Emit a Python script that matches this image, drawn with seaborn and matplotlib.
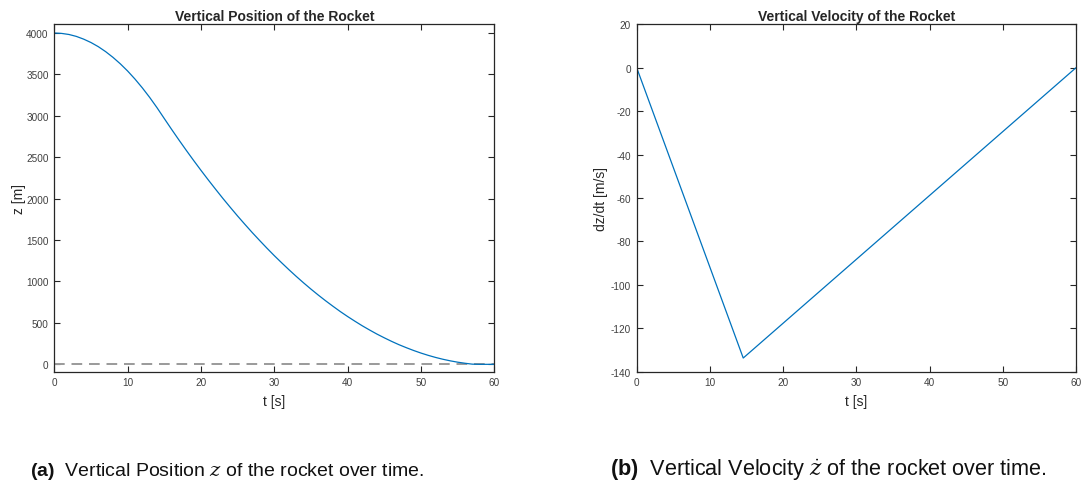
import numpy as np
import pandas as pd
import seaborn as sns
import matplotlib
matplotlib.use("Agg")
import matplotlib.pyplot as plt

# Descent trajectory of the rocket (time in s, height in m)
t_pos = list(range(0, 61))
z_pos = [4000, 3995, 3982, 3959, 3926, 3885, 3835, 3775, 3706, 3628,
         3541, 3444, 3338, 3223, 3099, 2967, 2836, 2708, 2583, 2461,
         2342, 2226, 2113, 2002, 1895, 1790, 1689, 1590, 1495, 1402,
         1312, 1226, 1142, 1061, 983, 908, 836, 767, 701, 637,
         577, 520, 465, 414, 365, 320, 277, 237, 201, 167,
         136, 108, 83, 61, 42, 26, 13, 2, 0, 0, 0]

# Vertical velocity: free fall, then constant deceleration to touchdown
t_vel = [0, 14.55, 60]
v_vel = [0, -133.7, 0]

# Ground reference
t_ground = [0, 60]
z_ground = [0, 0]

sns.set_theme(style="ticks")
plt.rcParams.update({
    "font.family": ["Liberation Sans", "DejaVu Sans"],
    "axes.unicode_minus": False,
    "mathtext.fontset": "custom",
    "mathtext.rm": "Liberation Sans",
    "mathtext.bf": "Liberation Sans:bold",
    "mathtext.it": "DejaVu Serif:italic",
})

W, H = 1083, 481
fig = plt.figure(figsize=(W / 100, H / 100), dpi=100)

blue = "#0072BD"
spine_c = "#262626"
tick_c = "#404040"


def style_axes(ax):
    for s in ax.spines.values():
        s.set_color(spine_c)
        s.set_linewidth(0.9)
    ax.tick_params(direction="in", length=4, width=0.8, color=spine_c,
                   labelsize=7.2, labelcolor=tick_c, top=True, right=True,
                   pad=4)
    ax.set_xlim(0, 60)
    ax.set_xticks(np.arange(0, 61, 10))


def ax_rect(x0, y0, x1, y1):
    return [x0 / W, (H - y1) / H, (x1 - x0) / W, (y1 - y0) / H]


# Left: position
ax1 = fig.add_axes(ax_rect(54.3, 25.3, 494.3, 372.7))
df_ground = pd.DataFrame({"t": t_ground, "z": z_ground})
sns.lineplot(data=df_ground, x="t", y="z", ax=ax1, color="#9a9a9a",
             linewidth=1.4, linestyle=(0, (5.5, 3.5)))
df_pos = pd.DataFrame({"t": t_pos, "z": z_pos})
sns.lineplot(data=df_pos, x="t", y="z", ax=ax1, color=blue, linewidth=0.9)
style_axes(ax1)
ax1.set_ylim(-89, 4105)
ax1.set_yticks(np.arange(0, 4001, 500))
ax1.set_title("Vertical Position of the Rocket", fontsize=10,
              fontweight="bold", pad=3)
ax1.set_xlabel("t [s]", fontsize=10, color=spine_c, labelpad=5)
ax1.set_ylabel("z [m]", fontsize=10, color=spine_c, labelpad=0)

# Right: velocity
ax2 = fig.add_axes(ax_rect(636.7, 25.3, 1076.0, 372.7))
df_vel = pd.DataFrame({"t": t_vel, "v": v_vel})
sns.lineplot(data=df_vel, x="t", y="v", ax=ax2, color=blue, linewidth=0.9)
style_axes(ax2)
ax2.set_ylim(-140, 20)
ax2.set_yticks(np.arange(-140, 21, 20))
ax2.set_title("Vertical Velocity of the Rocket", fontsize=10,
              fontweight="bold", pad=3)
ax2.set_xlabel("t [s]", fontsize=10, color=spine_c, labelpad=5)
ax2.set_ylabel("dz/dt [m/s]", fontsize=10, color=spine_c, labelpad=2)

# Sub-figure captions
fig.text(30 / W, (H - 476) / H,
         r"$\mathbf{(a)}$  Vertical Position $z$ of the rocket over time.",
         fontsize=14, ha="left", va="baseline", color="#111111")
fig.text(610 / W, (H - 476) / H,
         r"$\mathbf{(b)}$  Vertical Velocity $\dot{z}$ of the rocket over time.",
         fontsize=15.6, ha="left", va="baseline", color="#111111")

fig.savefig("out.png", dpi=100)
